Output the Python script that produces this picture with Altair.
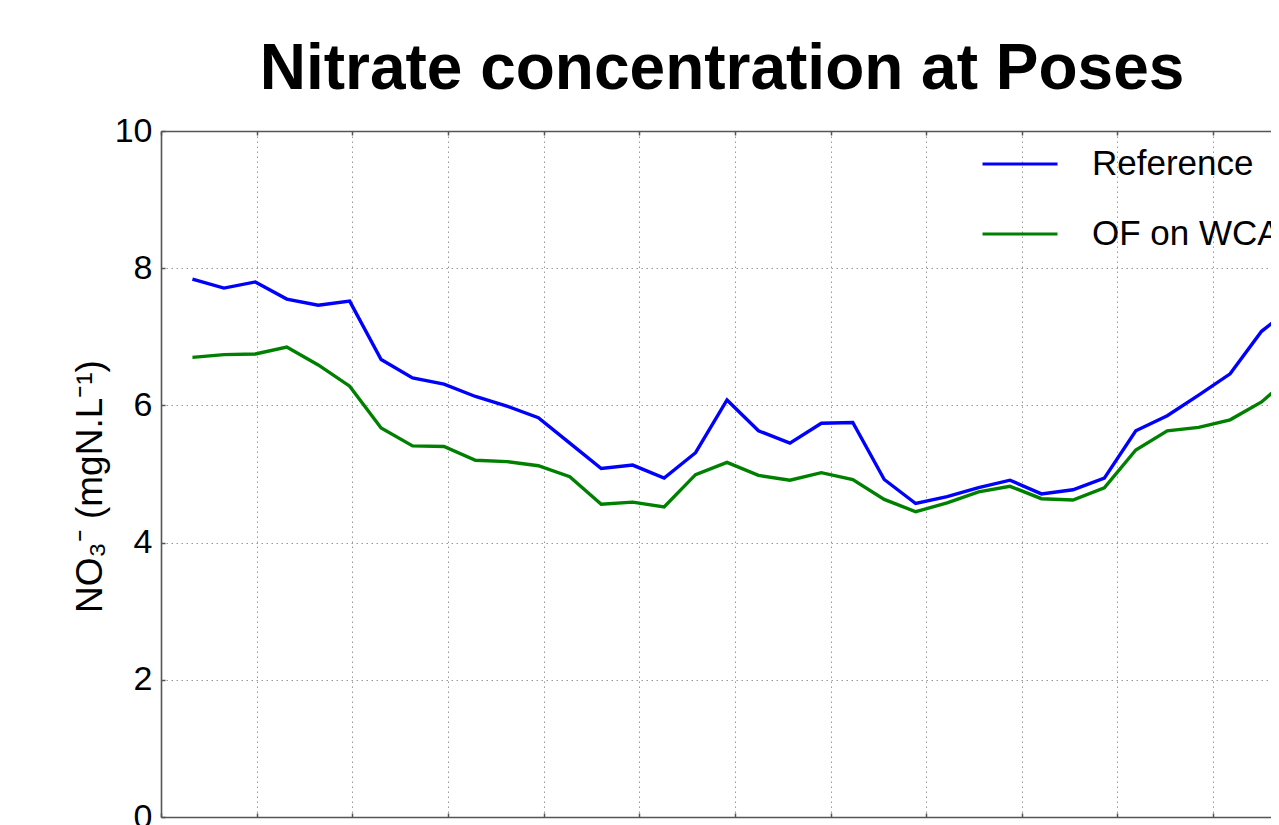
import altair as alt
import pandas as pd

# ---- data ----
days = [10 * i for i in range(36)]  # sampling every 10 days
reference = [7.84, 7.71, 7.80, 7.55, 7.46, 7.52, 6.67, 6.40, 6.31, 6.13,
             5.99, 5.82, 5.45, 5.08, 5.13, 4.94, 5.31, 6.08, 5.63, 5.45,
             5.74, 5.75, 4.92, 4.57, 4.67, 4.80, 4.91, 4.71, 4.77, 4.94,
             5.63, 5.85, 6.15, 6.46, 7.08, 7.44]
of_on_wca = [6.70, 6.74, 6.75, 6.85, 6.59, 6.28, 5.67, 5.41, 5.40, 5.20,
             5.18, 5.12, 4.96, 4.56, 4.59, 4.52, 4.99, 5.17, 4.98, 4.91,
             5.02, 4.92, 4.63, 4.45, 4.58, 4.74, 4.82, 4.64, 4.62, 4.80,
             5.35, 5.63, 5.68, 5.79, 6.05, 6.45]
series_names = ["Reference", "OF on WCA"]
series_colors = ["#0000ff", "#008000"]
y_ticks = [0, 2, 4, 6, 8, 10]
x_grid = [-10 + k * 365 / 12 for k in range(12)]
x_domain = [-10, 343.0]

rows = []
for d, r, o in zip(days, reference, of_on_wca):
    rows.append({"day": d, "value": r, "series": series_names[0]})
    rows.append({"day": d, "value": o, "series": series_names[1]})
df = pd.DataFrame(rows)

FONT = "Liberation Sans"
xs = alt.Scale(domain=x_domain, nice=False, zero=False)
ys = alt.Scale(domain=[0, 10], nice=False)
GRID_DASH = [1.5, 3.5]
GRID_COLOR = "#999999"
SPINE = "#555555"

base = alt.Chart(df)

lines = base.mark_line(strokeWidth=3.4, clip=True).encode(
    x=alt.X("day:Q", scale=xs, axis=alt.Axis(
        orient="bottom", values=x_grid, grid=True, gridDash=GRID_DASH,
        gridColor=GRID_COLOR, gridWidth=1, gridOpacity=1,
        domain=True, domainColor=SPINE, domainWidth=1.6,
        ticks=False, labels=False, title=None)),
    y=alt.Y("value:Q", scale=ys, axis=alt.Axis(
        orient="left", values=y_ticks, grid=True, gridDash=GRID_DASH,
        gridColor=GRID_COLOR, gridWidth=1, gridOpacity=1,
        domain=True, domainColor=SPINE, domainWidth=1.6,
        ticks=False, labelFont=FONT, labelFontSize=34, labelColor="#000000",
        labelPadding=9, title="NO\u2083\u207b (mgN.L\u207b\u00b9)",
        titleFont=FONT, titleFontSize=37, titleFontWeight="normal",
        titleColor="#000000", titleAngle=270, titleX=-60, titleY=355,
        titleAlign="center", titleBaseline="alphabetic")),
    color=alt.Color("series:N", scale=alt.Scale(domain=series_names, range=series_colors),
                    legend=alt.Legend(
                        title=None, orient="none", legendX=820, legendY=-6,
                        symbolType="stroke", symbolSize=5625, symbolStrokeWidth=3,
                        labelFont=FONT, labelFontSize=35, labelColor="#000000",
                        labelLimit=600, labelOffset=33, rowPadding=13, padding=0)),
    order=alt.Order("day:Q"),
)

ghost = dict(opacity=0)

top_spine = base.mark_point(**ghost).encode(
    x=alt.X("day:Q", scale=xs, axis=alt.Axis(
        orient="top", values=x_grid, grid=False, domain=True, domainColor=SPINE,
        domainWidth=1.6, ticks=False, labels=False, title=None)),
    y=alt.Y("value:Q", scale=ys, axis=None),
)

top_ticks = base.mark_point(**ghost).encode(
    x=alt.X("day:Q", scale=xs, axis=alt.Axis(
        orient="top", offset=-4, values=x_grid, grid=False, domain=False,
        ticks=True, tickSize=4, tickColor=SPINE, tickWidth=1.5,
        labels=False, title=None)),
    y=alt.Y("value:Q", scale=ys, axis=None),
)

bottom_ticks = base.mark_point(**ghost).encode(
    x=alt.X("day:Q", scale=xs, axis=alt.Axis(
        orient="bottom", offset=-4, values=x_grid, grid=False, domain=False,
        ticks=True, tickSize=4, tickColor=SPINE, tickWidth=1.5,
        labels=False, title=None)),
    y=alt.Y("value:Q", scale=ys, axis=None),
)

left_ticks = base.mark_point(**ghost).encode(
    x=alt.X("day:Q", scale=xs, axis=None),
    y=alt.Y("value:Q", scale=ys, axis=alt.Axis(
        orient="left", offset=-4, values=y_ticks, grid=False, domain=False,
        ticks=True, tickSize=4, tickColor=SPINE, tickWidth=1.5,
        labels=False, title=None)),
)

chart = alt.layer(lines, top_spine, top_ticks, bottom_ticks, left_ticks).resolve_axis(
    x="independent", y="independent"
).properties(
    width=1110,
    height=686,
    padding={"left": 153, "top": 123, "right": 0, "bottom": 8},
    autosize=alt.AutoSizeParams(type="none"),
    title=alt.TitleParams(
        "Nitrate concentration at Poses", font=FONT, fontSize=64,
        fontWeight="bold", color="#000000", anchor="middle", frame="group",
        baseline="alphabetic", offset=-39, dx=6),
).configure_view(stroke=None).configure(background="white")

chart.save("out.html", embed_options={"renderer": "svg", "actions": False})
